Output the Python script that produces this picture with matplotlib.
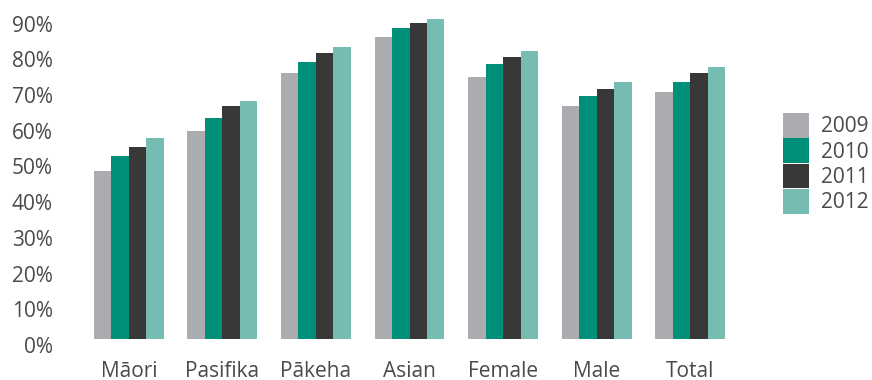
import matplotlib

matplotlib.use("Agg")
import matplotlib.pyplot as plt
import matplotlib.transforms as mtransforms
import numpy as np
from matplotlib.ticker import FuncFormatter

plt.rcParams["font.family"] = ["Open Sans", "DejaVu Sans"]

GROUPS = ["Māori", "Pasifika", "Pākeha", "Asian", "Female", "Male", "Total"]
YEARS = ["2009", "2010", "2011", "2012"]
V2009 = [47.1, 58.3, 74.5, 84.6, 73.4, 65.3, 69.2]
V2010 = [51.3, 61.9, 77.6, 87.1, 77.0, 68.1, 72.0]
V2011 = [53.8, 65.3, 80.1, 88.5, 79.0, 70.0, 74.5]
V2012 = [56.3, 66.7, 81.8, 89.6, 80.7, 72.0, 76.2]
COLORS = ["#abacaf", "#009079", "#383838", "#77bcb3"]

TXT = "#4a4a4a"
FS = 15

fig = plt.figure(figsize=(8.72, 3.8), dpi=100)
ax = fig.add_axes([82 / 872, 41 / 380, 655 / 872, 321.4 / 380])

x = np.arange(len(GROUPS))
w = 0.187
for j, (vals, col, lab) in enumerate(zip([V2009, V2010, V2011, V2012], COLORS, YEARS)):
    ax.bar(x + (j - 1.5) * w, vals, w, color=col, label=lab, linewidth=0)

ax.set_xlim(-0.5, len(GROUPS) - 0.5)
ax.set_ylim(0, 90)
ax.set_yticks(range(0, 91, 10))
ax.yaxis.set_major_formatter(FuncFormatter(lambda v, _: f"{int(v)}%"))
ax.set_xticks(x)
ax.set_xticklabels(GROUPS)
ax.tick_params(axis="both", length=0, labelsize=FS, colors=TXT)
ax.tick_params(axis="y", pad=21)
ax.tick_params(axis="x", pad=16)
for s in ax.spines.values():
    s.set_visible(False)

# y labels sit a little below their gridline positions in the original
off = mtransforms.ScaledTranslation(0, -6 / 100, fig.dpi_scale_trans)
for lab in ax.get_yticklabels():
    lab.set_transform(lab.get_transform() + off)

leg = fig.legend(
    loc="upper left",
    bbox_to_anchor=(783 / 872, 1 - 113 / 380),
    frameon=False,
    fontsize=FS,
    handlelength=1.25,
    handleheight=1.45,
    handletextpad=0.55,
    labelspacing=0.03,
    borderpad=0,
    borderaxespad=0,
)
for t in leg.get_texts():
    t.set_color(TXT)

fig.savefig("out.png", dpi=100)
